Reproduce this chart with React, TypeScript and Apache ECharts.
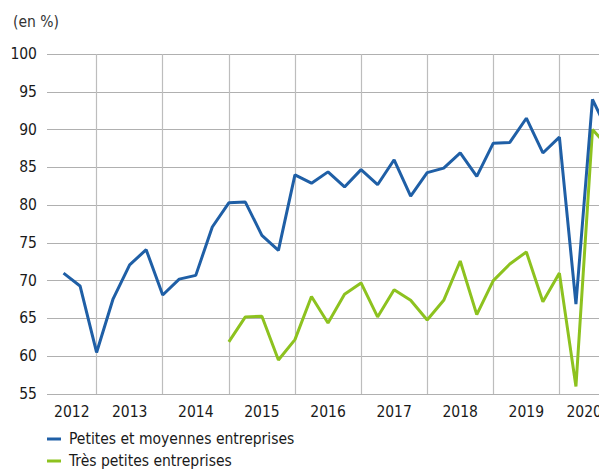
import React, { useEffect, useRef } from "react";
import * as echarts from "echarts";

// Quarters, index 0 = 2012 T1 (points sit at quarter ends)
const quarters: string[] = [
  "2012T1", "2012T2", "2012T3", "2012T4",
  "2013T1", "2013T2", "2013T3", "2013T4",
  "2014T1", "2014T2", "2014T3", "2014T4",
  "2015T1", "2015T2", "2015T3", "2015T4",
  "2016T1", "2016T2", "2016T3", "2016T4",
  "2017T1", "2017T2", "2017T3", "2017T4",
  "2018T1", "2018T2", "2018T3", "2018T4",
  "2019T1", "2019T2", "2019T3", "2019T4",
  "2020T1", "2020T2", "2020T3",
];

const years: number[] = [2012, 2013, 2014, 2015, 2016, 2017, 2018, 2019, 2020];

const pme: (number | null)[] = [
  null, 71.0, 69.3, 60.5,
  67.6, 72.1, 74.1, 68.1,
  70.2, 70.7, 77.1, 80.3,
  80.4, 76.0, 74.0, 84.0,
  82.9, 84.4, 82.4, 84.7,
  82.7, 86.0, 81.2, 84.3,
  84.9, 86.9, 83.8, 88.2,
  88.3, 91.5, 86.9, 89.0,
  66.9, 94.0, 89.4,
];

const tpe: (number | null)[] = [
  null, null, null, null,
  null, null, null, null,
  null, null, null, 61.9,
  65.2, 65.3, 59.5, 62.2,
  67.9, 64.4, 68.2, 69.7,
  65.2, 68.8, 67.4, 64.8,
  67.4, 72.6, 65.5, 70.0,
  72.2, 73.8, 67.2, 71.0,
  56.0, 90.0, 87.6,
];

const seriesNames = ["Petites et moyennes entreprises", "Très petites entreprises"];
const yTicks = { min: 55, max: 100, step: 5 };

const FONT = "'Liberation Sans Narrow', 'DejaVu Sans Condensed', 'Liberation Sans', Arial, sans-serif";
const FS = 15.5;

export default function App() {
  const ref = useRef<HTMLDivElement>(null);

  useEffect(() => {
    if (!ref.current) return;
    const chart = echarts.init(ref.current, null, { renderer: "svg" });

    const maxIdx = quarters.length - 1;
    const boundaries: number[] = [];
    const labelPos: Record<string, string> = {};
    years.forEach((y) => {
      const endIdx = quarters.indexOf(`${y}T4`);
      const startIdx = quarters.indexOf(`${y}T1`) - 1;
      const e = endIdx < 0 ? maxIdx : endIdx;
      const s = Math.max(0, startIdx);
      if (endIdx >= 0 && endIdx < maxIdx) boundaries.push(endIdx);
      labelPos[String((s + e) / 2)] = String(y);
    });

    const toPairs = (arr: (number | null)[]) =>
      arr.map((v, i) => (v == null ? null : [i, v])).filter((p) => p !== null);

    chart.setOption({
      animation: false,
      textStyle: { fontFamily: FONT },
      grid: { left: 47, right: 11, top: 54, bottom: 75 },
      graphic: [
        {
          type: "text",
          left: 13,
          top: 14,
          style: { text: "(en %)", fontSize: FS, fill: "#333", fontFamily: FONT },
        },
      ],
      legend: {
        orient: "vertical",
        left: 47,
        top: 431,
        padding: 0,
        itemWidth: 14,
        itemHeight: 3,
        itemGap: 6,
        icon: "rect",
        data: seriesNames,
        textStyle: { fontSize: FS, color: "#1a1a1a", lineHeight: 16, padding: [0, 0, 0, 3], fontFamily: FONT },
      },
      xAxis: {
        type: "value",
        min: 0,
        max: maxIdx,
        interval: 0.5,
        axisLine: { show: false },
        axisTick: { show: false },
        splitLine: { show: false },
        axisLabel: {
          margin: 10,
          fontSize: FS,
          color: "#1a1a1a",
          fontFamily: FONT,
          showMinLabel: true,
          showMaxLabel: true,
          formatter: (v: number) => labelPos[String(v)] ?? "",
        },
      },
      yAxis: {
        type: "value",
        min: yTicks.min,
        max: yTicks.max,
        interval: yTicks.step,
        axisLine: { show: false },
        axisTick: { show: false },
        splitLine: { lineStyle: { color: "#b0b0b0", width: 1.2 } },
        axisLabel: { margin: 10, fontSize: FS, color: "#1a1a1a", fontFamily: FONT },
      },
      series: [
        {
          name: "_grid",
          type: "line",
          data: [],
          silent: true,
          z: 1,
          markLine: {
            silent: true,
            symbol: "none",
            z: 1,
            label: { show: false },
            lineStyle: { color: "#bdbdbd", width: 1.2, type: "solid" },
            data: boundaries.map((b) => ({ xAxis: b })),
          },
        },
        {
          name: seriesNames[0],
          type: "line",
          data: toPairs(pme),
          showSymbol: false,
          symbol: "none",
          color: "#1f5fa6",
          lineStyle: { color: "#1f5fa6", width: 3 },
          z: 3,
        },
        {
          name: seriesNames[1],
          type: "line",
          data: toPairs(tpe),
          showSymbol: false,
          symbol: "none",
          color: "#8dc21f",
          lineStyle: { color: "#8dc21f", width: 3 },
          z: 2,
        },
      ],
    });

    return () => chart.dispose();
  }, []);

  return (
    <div
      style={{ position: "fixed", left: 0, top: 0, width: 599, height: 469, overflow: "hidden", background: "#fff" }}
    >
      <div ref={ref} style={{ width: 620, height: 469 }} />
    </div>
  );
}
